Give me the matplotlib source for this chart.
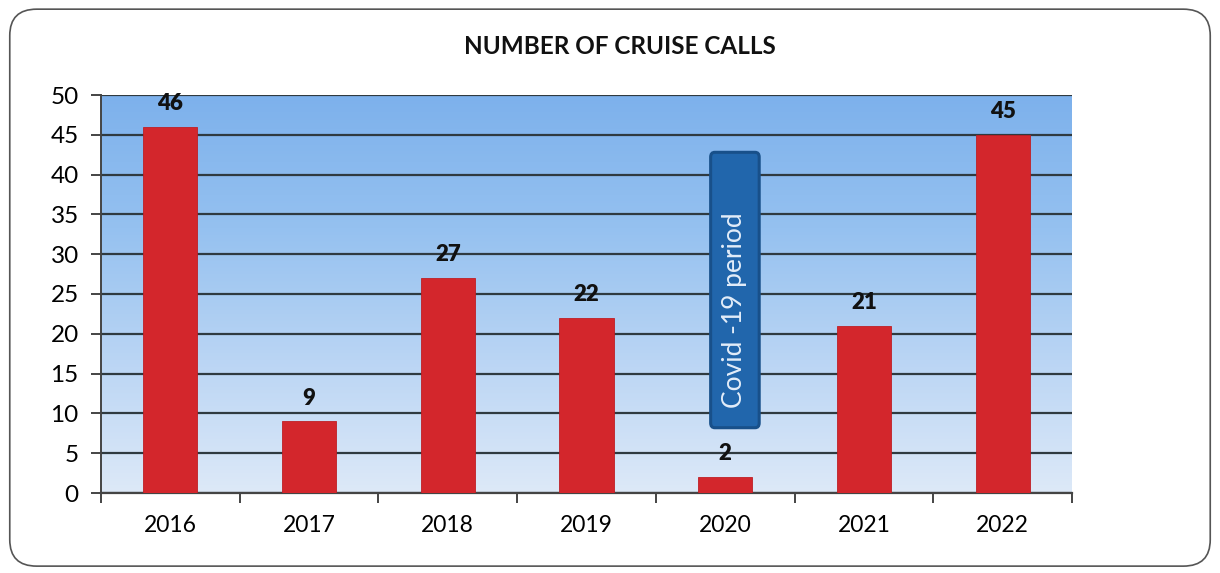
import numpy as np
import matplotlib
matplotlib.use("Agg")
import matplotlib.pyplot as plt
from matplotlib.patches import FancyBboxPatch
from matplotlib.colors import LinearSegmentedColormap

years = ["2016", "2017", "2018", "2019", "2020", "2021", "2022"]
calls = [46, 9, 27, 22, 2, 21, 45]
title = "NUMBER OF CRUISE CALLS"
note = "Covid -19 period"
note_span = (8.2, 42.8)   # vertical extent of the note box in data units
note_year = "2020"

plt.rcParams["font.family"] = ["Lato", "DejaVu Sans"]

fig = plt.figure(figsize=(12.2, 5.73), dpi=100)
fig.patch.set_facecolor("white")

# rounded outer frame
frame = FancyBboxPatch((0.008, 0.012), 0.984, 0.972,
                       boxstyle="round,pad=0,rounding_size=0.022",
                       transform=fig.transFigure, facecolor="none",
                       edgecolor="#555555", linewidth=1.2, mutation_aspect=2.1,
                       zorder=-1)
fig.patches.append(frame)

ax = fig.add_axes([101 / 1220, 1 - 493 / 573, (1072 - 101) / 1220, (493 - 95) / 573])
ax.set_facecolor("none")

x = np.arange(len(years))
ax.set_xlim(-0.5, len(years) - 0.5)
ax.set_ylim(0, 50)

# vertical blue gradient behind the plot
grad = np.linspace(0, 1, 256).reshape(-1, 1)
cmap = LinearSegmentedColormap.from_list(
    "sky", ["#dde9f8", "#bad5f4", "#95c1f0", "#7db1ec"])
ax.imshow(grad, extent=(-0.5, len(years) - 0.5, 0, 50), origin="lower",
          aspect="auto", cmap=cmap, zorder=0)

ax.set_yticks(np.arange(0, 51, 5))
ax.yaxis.grid(True, color="#2f3a40", linewidth=1.6, zorder=1)
ax.set_axisbelow(True)

bars = ax.bar(x, calls, width=0.39, color="#d3262c", edgecolor="#bf1f25",
              linewidth=0.6, zorder=3)
for xi, v in zip(x, calls):
    ax.text(xi, v + 1.6, str(v), ha="center", va="bottom", fontsize=16,
            fontweight="heavy", color="#111111", zorder=4)

# category ticks sit between the bars
ax.set_xticks(x)
ax.set_xticklabels(years, fontsize=16.5)
ax.set_xticks(np.arange(-0.5, len(years), 1), minor=True)
ax.tick_params(axis="x", which="major", length=0, pad=16)
ax.tick_params(axis="x", which="minor", length=7, width=1.4, color="#444444")
ax.tick_params(axis="y", labelsize=17.5, length=7, width=1.4, color="#444444", pad=9)

for side in ("top", "right"):
    ax.spines[side].set_visible(False)
ax.spines["left"].set_color("#444444")
ax.spines["left"].set_linewidth(1.4)
ax.spines["bottom"].set_color("#444444")
ax.spines["bottom"].set_linewidth(1.6)

# Covid note box
xi = years.index(note_year)
bx0, bw = xi - 0.105, 0.35
box = FancyBboxPatch((bx0, note_span[0]), bw, note_span[1] - note_span[0],
                     boxstyle="round,pad=0,rounding_size=0.03",
                     facecolor="#2166ac", edgecolor="#18508a", linewidth=2.2,
                     mutation_aspect=20, zorder=5)
ax.add_patch(box)
ax.text(bx0 + bw / 2, 23.0, note, rotation=90,
        ha="center", va="center", fontsize=19, color="#e3edf9", zorder=6)

fig.text(0.508, 1 - 47 / 573, title, ha="center", va="center",
         fontsize=17.5, fontweight="bold", color="#111111")

fig.savefig("out.png", dpi=100)
